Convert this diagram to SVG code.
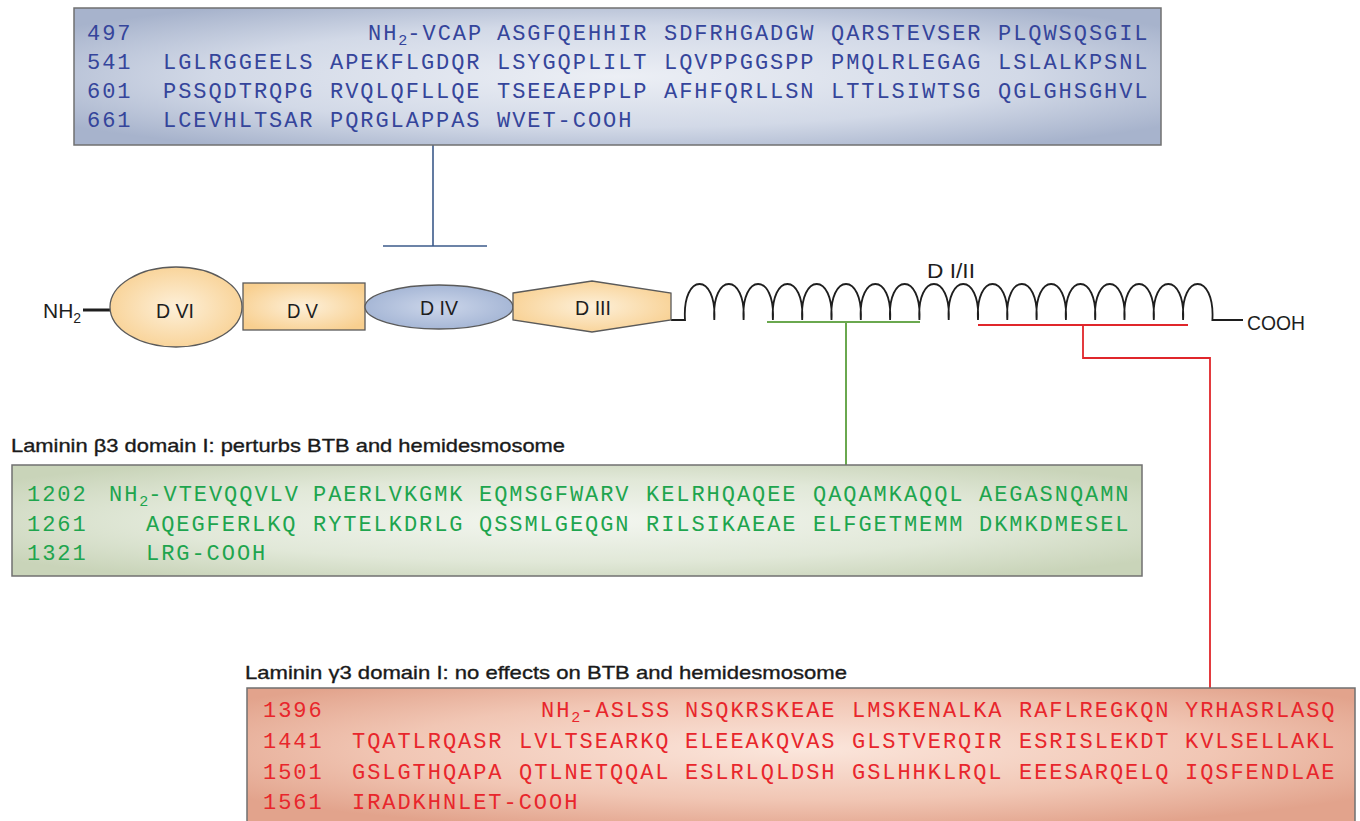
<svg xmlns="http://www.w3.org/2000/svg" width="1360" height="821" viewBox="0 0 1360 821">
  <defs>
    <radialGradient id="gBlue" cx="0.5" cy="0.5" r="0.62">
      <stop offset="0" stop-color="#eceff5"/>
      <stop offset="0.6" stop-color="#d2d9e7"/>
      <stop offset="1" stop-color="#a7b3cc"/>
    </radialGradient>
    <radialGradient id="gGreen" cx="0.5" cy="0.5" r="0.62">
      <stop offset="0" stop-color="#f3f6f0"/>
      <stop offset="0.6" stop-color="#e1e8d8"/>
      <stop offset="1" stop-color="#c9d4b9"/>
    </radialGradient>
    <radialGradient id="gRed" cx="0.5" cy="0.45" r="0.62">
      <stop offset="0" stop-color="#fbe6dc"/>
      <stop offset="0.6" stop-color="#f1c6b4"/>
      <stop offset="1" stop-color="#e2a38c"/>
    </radialGradient>
    <radialGradient id="gPeach" cx="0.5" cy="0.5" r="0.6">
      <stop offset="0" stop-color="#fdf0d9"/>
      <stop offset="1" stop-color="#f8cf8f"/>
    </radialGradient>
    <radialGradient id="gSlate" cx="0.5" cy="0.5" r="0.6">
      <stop offset="0" stop-color="#ccd6ea"/>
      <stop offset="1" stop-color="#9fb1d2"/>
    </radialGradient>
  </defs>
  <style>
    .box { stroke: #707070; stroke-width: 1.5; }
    .dom { stroke: #5a5a5a; stroke-width: 1.3; }
    .lbl { font-family: "Liberation Sans Narrow", "Liberation Sans", Arial, sans-serif; font-size: 21px; fill: #1e1e1e; }
    .head { font-family: "Liberation Sans", Arial, sans-serif; font-size: 19px; fill: #1a1a1a; stroke: #1a1a1a; stroke-width: 0.35px; }
    .seq { font-family: "Liberation Mono", "Courier New", monospace; font-size: 22px; letter-spacing: 1.95px; }
    .sub { font-size: 15px; letter-spacing: 0; }
    .blue { fill: #35459b; }
    .green { fill: #1ea54e; }
    .red { fill: #e8262c; }
    .wire { fill: none; }
  </style>

  <rect width="1360" height="821" fill="#ffffff"/>

  <!-- connectors -->
  <g id="connectors" class="wire">
    <path d="M433 145 V246 M383 246 H487" stroke="#3c5b8b" stroke-width="1.6"/>
    <path d="M767 322 H920 M846 322 V465" stroke="#6aa84f" stroke-width="2"/>
    <path d="M978 325 H1188" stroke="#e0262b" stroke-width="2.2"/>
    <path d="M1083 325 V358 H1210 V688" stroke="#e0262b" stroke-width="1.8"/>
  </g>

  <!-- domain I/II coiled region and backbone -->
  <g id="backbone" class="wire" stroke="#1e1e1e">
    <path d="M83 310 H110" stroke-width="3"/>
    <path stroke-width="1.8" d="M671 320 H685
      C682 272 717 272 714.3 320 C711.3 272 746.3 272 743.6 320 C740.6 272 775.6 272 772.9 320
      C769.9 272 804.9 272 802.2 320 C799.2 272 834.2 272 831.5 320 C828.5 272 863.5 272 860.8 320
      C857.8 272 892.8 272 890.1 320 C887.1 272 922.1 272 919.4 320 C916.4 272 951.4 272 948.7 320
      C945.7 272 980.7 272 978 320 C975 272 1010 272 1007.3 320 C1004.3 272 1039.3 272 1036.6 320
      C1033.6 272 1068.6 272 1065.9 320 C1062.9 272 1097.9 272 1095.2 320 C1092.2 272 1127.2 272 1124.5 320
      C1121.5 272 1156.5 272 1153.8 320 C1150.8 272 1185.8 272 1183.1 320 C1180.1 272 1215.1 272 1212.4 320
      H1243"/>
  </g>

  <g id="nh2-terminus">
    <text class="lbl" x="43" y="318">NH<tspan font-size="14" dy="5">2</tspan></text>
  </g>
  <g id="cooh-terminus">
    <text class="lbl" x="1247" y="330" textLength="58" lengthAdjust="spacingAndGlyphs">COOH</text>
  </g>
  <g id="domain-I-II">
    <text class="lbl" x="927" y="278" textLength="48" lengthAdjust="spacingAndGlyphs">D I/II</text>
  </g>

  <g id="domain-VI">
    <ellipse class="dom" cx="176" cy="307" rx="66" ry="40" fill="url(#gPeach)"/>
    <text class="lbl" x="156" y="318" textLength="38" lengthAdjust="spacingAndGlyphs">D VI</text>
  </g>
  <g id="domain-V">
    <rect class="dom" x="243" y="283" width="122" height="47" fill="url(#gPeach)"/>
    <text class="lbl" x="287" y="318" textLength="31" lengthAdjust="spacingAndGlyphs">D V</text>
  </g>
  <g id="domain-IV">
    <ellipse class="dom" cx="439" cy="307" rx="74" ry="22" fill="url(#gSlate)"/>
    <text class="lbl" x="420" y="315" textLength="38" lengthAdjust="spacingAndGlyphs">D IV</text>
  </g>
  <g id="domain-III">
    <polygon class="dom" points="513,293 592,281 671,293 671,320 592,332 513,320" fill="url(#gPeach)"/>
    <text class="lbl" x="575" y="315" textLength="36" lengthAdjust="spacingAndGlyphs">D III</text>
  </g>

  <!-- fragment 497-700 -->
  <g id="seq-497">
    <rect class="box" x="74" y="8" width="1087" height="137" fill="url(#gBlue)"/>
    <text class="seq blue" y="40"><tspan x="87">497</tspan><tspan x="368">NH</tspan><tspan class="sub" dy="5">2</tspan><tspan dy="-5">-VCAP</tspan><tspan x="497">ASGFQEHHIR</tspan><tspan x="664">SDFRHGADGW</tspan><tspan x="831">QARSTEVSER</tspan><tspan x="998">PLQWSQSGIL</tspan></text>
    <text class="seq blue" y="69"><tspan x="87">541</tspan><tspan x="163">LGLRGGEELS</tspan><tspan x="330">APEKFLGDQR</tspan><tspan x="497">LSYGQPLILT</tspan><tspan x="664">LQVPPGGSPP</tspan><tspan x="831">PMQLRLEGAG</tspan><tspan x="998">LSLALKPSNL</tspan></text>
    <text class="seq blue" y="98"><tspan x="87">601</tspan><tspan x="163">PSSQDTRQPG</tspan><tspan x="330">RVQLQFLLQE</tspan><tspan x="497">TSEEAEPPLP</tspan><tspan x="664">AFHFQRLLSN</tspan><tspan x="831">LTTLSIWTSG</tspan><tspan x="998">QGLGHSGHVL</tspan></text>
    <text class="seq blue" y="127"><tspan x="87">661</tspan><tspan x="163">LCEVHLTSAR</tspan><tspan x="330">PQRGLAPPAS</tspan><tspan x="497">WVET-COOH</tspan></text>
  </g>

  <!-- laminin beta3 domain I -->
  <g id="seq-beta3">
    <text class="head" x="11" y="452" textLength="554" lengthAdjust="spacingAndGlyphs">Laminin β3 domain I: perturbs BTB and hemidesmosome</text>
    <rect class="box" x="12" y="465" width="1130" height="111" fill="url(#gGreen)"/>
    <text class="seq green" y="501"><tspan x="27">1202</tspan><tspan x="109">NH</tspan><tspan class="sub" dy="5">2</tspan><tspan dy="-5">-VTEVQQVLV</tspan><tspan x="313">PAERLVKGMK</tspan><tspan x="479">EQMSGFWARV</tspan><tspan x="646">KELRHQAQEE</tspan><tspan x="813">QAQAMKAQQL</tspan><tspan x="979">AEGASNQAMN</tspan></text>
    <text class="seq green" y="531"><tspan x="27">1261</tspan><tspan x="146">AQEGFERLKQ</tspan><tspan x="313">RYTELKDRLG</tspan><tspan x="479">QSSMLGEQGN</tspan><tspan x="646">RILSIKAEAE</tspan><tspan x="813">ELFGETMEMM</tspan><tspan x="979">DKMKDMESEL</tspan></text>
    <text class="seq green" y="560"><tspan x="27">1321</tspan><tspan x="146">LRG-COOH</tspan></text>
  </g>

  <!-- laminin gamma3 domain I -->
  <g id="seq-gamma3">
    <text class="head" x="245" y="679" textLength="602" lengthAdjust="spacingAndGlyphs">Laminin γ3 domain I: no effects on BTB and hemidesmosome</text>
    <rect class="box" x="247" y="688" width="1108" height="136" fill="url(#gRed)"/>
    <text class="seq red" y="717"><tspan x="263">1396</tspan><tspan x="541">NH</tspan><tspan class="sub" dy="5">2</tspan><tspan dy="-5">-ASLSS</tspan><tspan x="685">NSQKRSKEAE</tspan><tspan x="852">LMSKENALKA</tspan><tspan x="1019">RAFLREGKQN</tspan><tspan x="1185">YRHASRLASQ</tspan></text>
    <text class="seq red" y="748"><tspan x="263">1441</tspan><tspan x="352">TQATLRQASR</tspan><tspan x="519">LVLTSEARKQ</tspan><tspan x="685">ELEEAKQVAS</tspan><tspan x="852">GLSTVERQIR</tspan><tspan x="1019">ESRISLEKDT</tspan><tspan x="1185">KVLSELLAKL</tspan></text>
    <text class="seq red" y="779"><tspan x="263">1501</tspan><tspan x="352">GSLGTHQAPA</tspan><tspan x="519">QTLNETQQAL</tspan><tspan x="685">ESLRLQLDSH</tspan><tspan x="852">GSLHHKLRQL</tspan><tspan x="1019">EEESARQELQ</tspan><tspan x="1185">IQSFENDLAE</tspan></text>
    <text class="seq red" y="809"><tspan x="263">1561</tspan><tspan x="352">IRADKHNLET-COOH</tspan></text>
  </g>
</svg>
